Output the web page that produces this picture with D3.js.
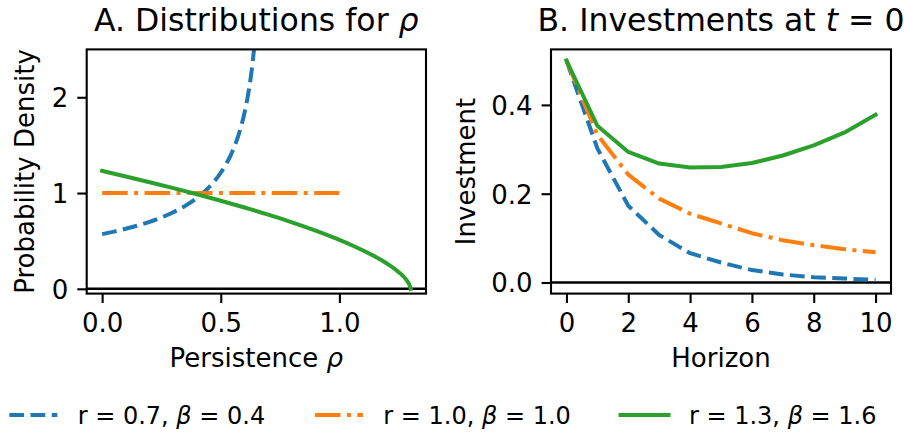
<!DOCTYPE html>
<html>
<head>
<meta charset="utf-8">
<script src="https://cdn.jsdelivr.net/npm/d3@7"></script>
<style>
  html, body { margin: 0; padding: 0; background: #fff; }
  svg { display: block; font-family: "DejaVu Sans", sans-serif; }
</style>
</head>
<body>
<svg id="fig" width="904" height="432"></svg>
<script>
// ---- Panel A: densities over persistence rho ----
const rhoBlue = [0, 0.05, 0.1, 0.15, 0.2, 0.25, 0.3, 0.35, 0.4, 0.45, 0.5, 0.525, 0.55, 0.575, 0.6, 0.61, 0.62, 0.63, 0.64, 0.65];
const densBlue = [0.571, 0.597, 0.627, 0.660, 0.699, 0.745, 0.799, 0.866, 0.950, 1.060, 1.212, 1.313, 1.440, 1.606, 1.837, 1.956, 2.100, 2.275, 2.496, 2.783];
const rhoOrange = [0, 1.0];
const densOrange = [1.0, 1.0];
const rhoGreen = [0, 0.1, 0.2, 0.3, 0.4, 0.5, 0.6, 0.7, 0.8, 0.9, 0.95, 1.0, 1.05, 1.1, 1.15, 1.2, 1.25, 1.28, 1.29, 1.295, 1.3];
const densGreen = [1.231, 1.173, 1.113, 1.052, 0.987, 0.920, 0.849, 0.774, 0.694, 0.607, 0.560, 0.511, 0.458, 0.400, 0.337, 0.264, 0.174, 0.101, 0.066, 0.044, 0];
const xTicksA = [0.0, 0.5, 1.0];
const yTicksA = [0, 1, 2];

// ---- Panel B: investment at t = 0 by horizon ----
const horizons = [0, 1, 2, 3, 4, 5, 6, 7, 8, 9, 10];
const investBlue = [0.5, 0.302, 0.173, 0.107, 0.066, 0.045, 0.028, 0.018, 0.012, 0.009, 0.006];
const investOrange = [0.5, 0.333, 0.243, 0.189, 0.155, 0.133, 0.111, 0.095, 0.084, 0.075, 0.068];
const investGreen = [0.5, 0.353, 0.294, 0.268, 0.259, 0.260, 0.269, 0.286, 0.309, 0.338, 0.378];
const xTicksB = [0, 2, 4, 6, 8, 10];
const yTicksB = [0.0, 0.2, 0.4];

// ---- Legend ----
const seriesLabels = [
  ["r = 0.7, ", "β", " = 0.4"],
  ["r = 1.0, ", "β", " = 1.0"],
  ["r = 1.3, ", "β", " = 1.6"]
];

const colors = ["#1f77b4", "#ff7f0e", "#2ca02c"];
const LW = 4;
const dashes = [
  [3.7 * LW, 1.6 * LW].join(","),
  [6.4 * LW, 1.6 * LW, 1 * LW, 1.6 * LW].join(","),
  null
];

const svg = d3.select("#fig");
const TICK = 26;

function panel(opts) {
  const { left, right, top, bottom, xDomain, yDomain, xTicks, yTicks, xFmt, yFmt, id } = opts;
  const x = d3.scaleLinear().domain(xDomain).range([left, right]);
  const y = d3.scaleLinear().domain(yDomain).range([bottom, top]);
  const g = svg.append("g");

  g.append("clipPath").attr("id", id)
    .append("rect").attr("x", left).attr("y", top)
    .attr("width", right - left).attr("height", bottom - top);

  const plot = g.append("g").attr("clip-path", `url(#${id})`);

  // zero reference line
  plot.append("line")
    .attr("x1", left).attr("x2", right)
    .attr("y1", y(0)).attr("y2", y(0))
    .attr("stroke", "#000").attr("stroke-width", 2.4);

  opts.series.forEach((s, i) => {
    const line = d3.line()
      .x((d, k) => x(s.xs[k]))
      .y(d => y(d))
      .curve(opts.smooth ? d3.curveMonotoneX : d3.curveLinear);
    plot.append("path")
      .attr("d", line(s.ys))
      .attr("fill", "none")
      .attr("stroke", colors[i])
      .attr("stroke-width", LW)
      .attr("stroke-linejoin", "round")
      .attr("stroke-linecap", dashes[i] ? "butt" : "square")
      .attr("stroke-dasharray", dashes[i]);
  });

  // axes with outward ticks
  const xAxis = d3.axisBottom(x).tickValues(xTicks).tickFormat(xFmt).tickSize(9.4).tickPadding(9);
  const yAxis = d3.axisLeft(y).tickValues(yTicks).tickFormat(yFmt).tickSize(9.4).tickPadding(9);

  const gx = g.append("g").attr("transform", `translate(0,${bottom})`).call(xAxis);
  const gy = g.append("g").attr("transform", `translate(${left},0)`).call(yAxis);
  [gx, gy].forEach(a => {
    a.select(".domain").remove();
    a.selectAll(".tick line").attr("stroke", "#000").attr("stroke-width", 2.1);
    a.selectAll(".tick text").attr("fill", "#000")
      .style("font-family", "DejaVu Sans").style("font-size", TICK + "px");
  });
  gx.selectAll(".tick text").attr("dy", "0.76em");
  gy.selectAll(".tick text").attr("dy", "0.36em");

  // frame
  g.append("rect")
    .attr("x", left).attr("y", top)
    .attr("width", right - left).attr("height", bottom - top)
    .attr("fill", "none").attr("stroke", "#000").attr("stroke-width", 2.1);

  return { x, y, g };
}

const axTop = 49.4, axBottom = 293.6;

const A = panel({
  id: "clipA", left: 86.7, right: 426, top: axTop, bottom: axBottom,
  xDomain: [-0.065, 1.365], yDomain: [-0.05, 2.5],
  xTicks: xTicksA, yTicks: yTicksA,
  xFmt: d3.format(".1f"), yFmt: d3.format("d"),
  smooth: true,
  series: [
    { xs: rhoBlue, ys: densBlue },
    { xs: rhoOrange, ys: densOrange },
    { xs: rhoGreen, ys: densGreen }
  ]
});

const B = panel({
  id: "clipB", left: 551, right: 891, top: axTop, bottom: axBottom,
  xDomain: [-0.5, 10.5], yDomain: [-0.025, 0.525],
  xTicks: xTicksB, yTicks: yTicksB,
  xFmt: d3.format("d"), yFmt: d3.format(".1f"),
  smooth: false,
  series: [
    { xs: horizons, ys: investBlue },
    { xs: horizons, ys: investOrange },
    { xs: horizons, ys: investGreen }
  ]
});

// titles
function richText(sel, parts) {
  parts.forEach(p => {
    sel.append("tspan").text(p.t).style("font-style", p.i ? "italic" : "normal");
  });
  return sel;
}

richText(svg.append("text")
  .attr("x", (86.7 + 426) / 2).attr("y", 31)
  .attr("text-anchor", "middle").style("font-size", "31.5px"),
  [{ t: "A. Distributions for " }, { t: "ρ", i: true }]);

richText(svg.append("text")
  .attr("x", (551 + 891) / 2).attr("y", 31)
  .attr("text-anchor", "middle").style("font-size", "31.5px"),
  [{ t: "B. Investments at " }, { t: "t", i: true }, { t: " = 0" }]);

// axis labels
richText(svg.append("text")
  .attr("x", (86.7 + 426) / 2).attr("y", 367)
  .attr("text-anchor", "middle").style("font-size", TICK + "px"),
  [{ t: "Persistence " }, { t: "ρ", i: true }]);

svg.append("text")
  .attr("x", (551 + 891) / 2).attr("y", 367)
  .attr("text-anchor", "middle").style("font-size", TICK + "px")
  .text("Horizon");

svg.append("text")
  .attr("transform", `translate(34,${(axTop + axBottom) / 2}) rotate(-90)`)
  .attr("text-anchor", "middle").style("font-size", TICK + "px")
  .text("Probability Density");

svg.append("text")
  .attr("transform", `translate(475,${(axTop + axBottom) / 2}) rotate(-90)`)
  .attr("text-anchor", "middle").style("font-size", TICK + "px")
  .text("Investment");

// legend in three columns below the panels
const LEG = 24;
const legY = 415;
let cx = 9.3;
seriesLabels.forEach((parts, i) => {
  const hl = 2 * LEG;
  svg.append("line")
    .attr("x1", cx).attr("x2", cx + hl)
    .attr("y1", legY).attr("y2", legY)
    .attr("stroke", colors[i]).attr("stroke-width", LW)
    .attr("stroke-linecap", dashes[i] ? "butt" : "square")
    .attr("stroke-dasharray", dashes[i]);
  const tx = cx + hl + 0.85 * LEG;
  const t = richText(svg.append("text")
    .attr("x", tx).attr("y", legY + 9).style("font-size", LEG + "px"),
    [{ t: parts[0] }, { t: parts[1], i: true }, { t: parts[2] }]);
  const w = t.node().getComputedTextLength();
  cx = tx + w + 2.07 * LEG;
});
</script>
</body>
</html>
